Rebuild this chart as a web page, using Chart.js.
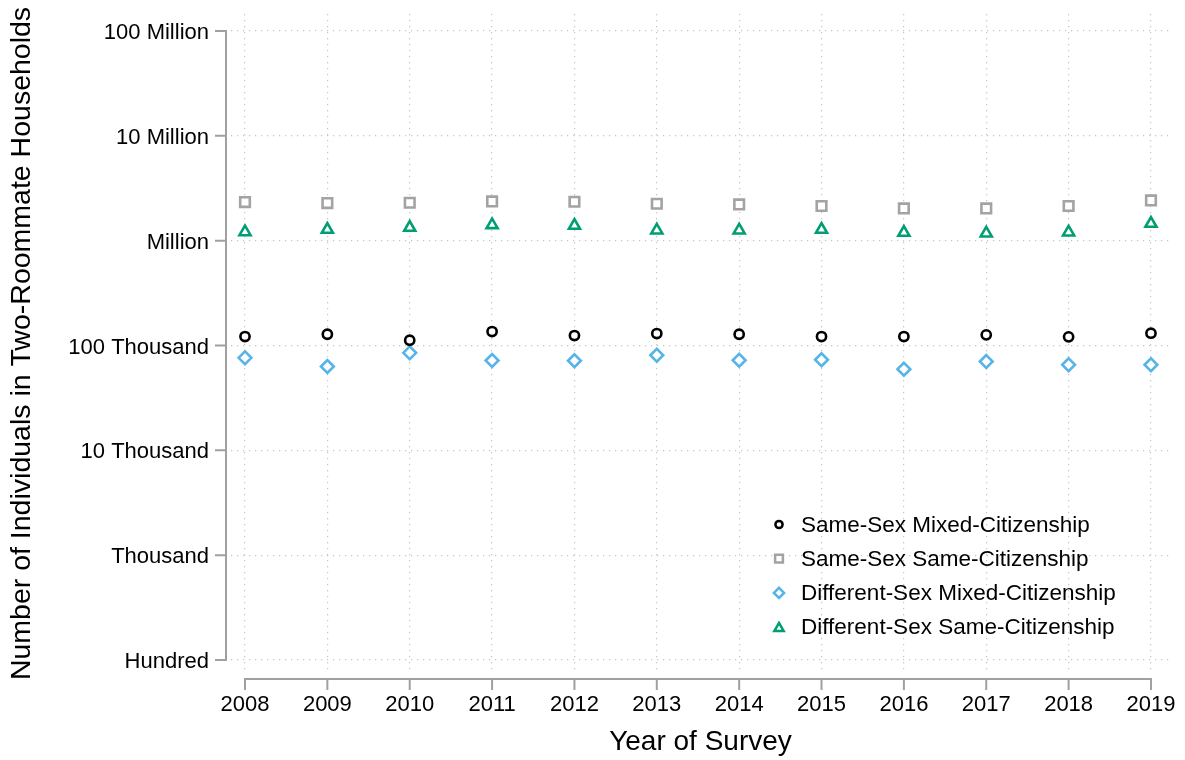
<!DOCTYPE html>
<html>
<head>
<meta charset="utf-8">
<script src="https://cdn.jsdelivr.net/npm/chart.js@4/dist/chart.umd.min.js"></script>
<style>
  html, body { margin: 0; padding: 0; background: #ffffff; }
  #wrap { width: 1185px; height: 760px; position: relative; }
</style>
</head>
<body>
<div id="wrap"><canvas id="chart" width="1185" height="760"></canvas></div>
<script>
// Survey years
const years = [2008, 2009, 2010, 2011, 2012, 2013, 2014, 2015, 2016, 2017, 2018, 2019];

// Number of individuals in two-roommate households, by household type
const sameSexMixed = [121800, 128100, 112300, 135900, 124500, 130100, 128100, 121800, 121800, 126400, 121000, 131000];
const sameSexSame = [2337000, 2286000, 2301000, 2367000, 2352000, 2251000, 2217000, 2141000, 2031000, 2031000, 2141000, 2420000];
const diffSexMixed = [76350, 63100, 85200, 72000, 71500, 80800, 72400, 73100, 59500, 70400, 65500, 65500];
const diffSexSame = [1210000, 1276000, 1333000, 1412000, 1393000, 1257000, 1257000, 1276000, 1195000, 1177000, 1203000, 1455000];

// Log-axis ticks and their labels
const yTickValues = [1e2, 1e3, 1e4, 1e5, 1e6, 1e7, 1e8];
const yTickLabels = ['Hundred', 'Thousand', '10 Thousand', '100 Thousand', 'Million', '10 Million', '100 Million'];

const seriesNames = ['Same-Sex Mixed-Citizenship', 'Same-Sex Same-Citizenship', 'Different-Sex Mixed-Citizenship', 'Different-Sex Same-Citizenship'];

const FONT = "'Liberation Sans', Arial, sans-serif";
const AXIS_GREY = '#a0a0a0';

function toPoints(values) {
  return years.map((yr, i) => ({ x: yr, y: values[i] }));
}

const seriesStyles = [
  { color: '#000000', pointStyle: 'circle', radius: 4.6, legendRadius: 3.6 },
  { color: '#a3a3a3', pointStyle: 'rect', radius: 6.8, legendRadius: 5.5 },
  { color: '#56b4e9', pointStyle: 'rectRot', radius: 6.4, legendRadius: 5.1 },
  { color: '#009e73', pointStyle: 'triangle', radius: 6.4, legendRadius: 5.4 }
];
const seriesValues = [sameSexMixed, sameSexSame, diffSexMixed, diffSexSame];

const datasets = seriesValues.map((vals, i) => ({
  label: seriesNames[i],
  data: toPoints(vals),
  showLine: false,
  pointStyle: seriesStyles[i].pointStyle,
  pointRadius: seriesStyles[i].radius,
  pointHoverRadius: seriesStyles[i].radius,
  pointBorderWidth: 2.6,
  pointBorderColor: seriesStyles[i].color,
  pointBackgroundColor: '#ffffff'
}));

// Marker drawing for the legend, same geometry as the chart's point styles
function drawMarker(ctx, style, x, y, r) {
  ctx.beginPath();
  if (style === 'circle') {
    ctx.arc(x, y, r, 0, Math.PI * 2);
  } else if (style === 'rect') {
    const s = Math.SQRT1_2 * r;
    ctx.rect(x - s, y - s, 2 * s, 2 * s);
  } else if (style === 'rectRot') {
    ctx.moveTo(x - r, y);
    ctx.lineTo(x, y - r);
    ctx.lineTo(x + r, y);
    ctx.lineTo(x, y + r);
  } else if (style === 'triangle') {
    let rad = 0;
    ctx.moveTo(x + Math.sin(rad) * r, y - Math.cos(rad) * r);
    rad += 2 * Math.PI / 3;
    ctx.lineTo(x + Math.sin(rad) * r, y - Math.cos(rad) * r);
    rad += 2 * Math.PI / 3;
    ctx.lineTo(x + Math.sin(rad) * r, y - Math.cos(rad) * r);
  }
  ctx.closePath();
  ctx.fill();
  ctx.stroke();
}

// Detached axis lines with outward ticks
const axisLines = {
  id: 'axisLines',
  beforeDatasetsDraw(chart) {
    const { ctx, chartArea, scales } = chart;
    const xs = scales.x, ys = scales.y;
    ctx.save();
    ctx.strokeStyle = AXIS_GREY;
    ctx.lineWidth = 2;
    ctx.lineCap = 'butt';
    // y axis
    const ax = chartArea.left - 5;
    const yTop = ys.getPixelForValue(yTickValues[yTickValues.length - 1]);
    const yBot = ys.getPixelForValue(yTickValues[0]);
    ctx.beginPath();
    ctx.moveTo(ax, yTop - 1);
    ctx.lineTo(ax, yBot + 1);
    yTickValues.forEach(v => {
      const p = ys.getPixelForValue(v);
      ctx.moveTo(ax - 11, p);
      ctx.lineTo(ax + 1, p);
    });
    ctx.stroke();
    // x axis
    const ay = chartArea.bottom + 6;
    const xL = xs.getPixelForValue(years[0]);
    const xR = xs.getPixelForValue(years[years.length - 1]);
    ctx.beginPath();
    ctx.moveTo(xL - 1, ay);
    ctx.lineTo(xR + 1, ay);
    years.forEach(yr => {
      const p = xs.getPixelForValue(yr);
      ctx.moveTo(p, ay - 1);
      ctx.lineTo(p, ay + 11);
    });
    ctx.stroke();
    ctx.restore();
  }
};

// Legend placed inside the plot, lower right
const insideLegend = {
  id: 'insideLegend',
  afterDraw(chart) {
    const { ctx } = chart;
    const markerX = 779, textX = 801, firstY = 524.5, step = 34.2;
    ctx.save();
    ctx.font = '22.5px ' + FONT;
    ctx.textBaseline = 'middle';
    ctx.textAlign = 'left';
    seriesNames.forEach((name, i) => {
      const y = firstY + i * step;
      ctx.strokeStyle = seriesStyles[i].color;
      ctx.fillStyle = '#ffffff';
      ctx.lineWidth = 2.5;
      drawMarker(ctx, seriesStyles[i].pointStyle, markerX, y + (seriesStyles[i].pointStyle === 'triangle' ? 1.2 : 0), seriesStyles[i].legendRadius);
      ctx.fillStyle = '#000000';
      ctx.fillText(name, textX, y + 1);
    });
    ctx.restore();
  }
};

new Chart(document.getElementById('chart'), {
  type: 'scatter',
  data: { datasets },
  options: {
    responsive: false,
    animation: false,
    events: [],
    layout: { padding: { left: 0, right: 15, top: 14, bottom: 0 } },
    plugins: {
      legend: { display: false },
      tooltip: { enabled: false }
    },
    scales: {
      x: {
        type: 'linear',
        min: 2007.83,
        max: 2019.231,
        afterBuildTicks(scale) { scale.ticks = years.map(v => ({ value: v })); },
        afterFit(scale) {
          scale.height = 87;
          scale.paddingLeft = 0;
          scale.paddingRight = 0;
        },
        ticks: {
          autoSkip: false,
          padding: 19,
          color: '#000000',
          font: { family: FONT, size: 22 },
          callback: v => String(v)
        },
        grid: { drawTicks: false, color: '#c4c4c4', lineWidth: 1.2 },
        border: { display: false, dash: [1.2, 4.8] },
        title: {
          display: true,
          text: 'Year of Survey',
          color: '#000000',
          font: { family: FONT, size: 28 },
          padding: { top: 0, bottom: 1 }
        }
      },
      y: {
        type: 'logarithmic',
        min: 75.2,
        max: 1.4527e8,
        afterBuildTicks(scale) { scale.ticks = yTickValues.map(v => ({ value: v })); },
        afterFit(scale) {
          scale.width = 231;
          scale.paddingTop = 0;
          scale.paddingBottom = 0;
        },
        ticks: {
          autoSkip: false,
          padding: 22,
          labelOffset: 2,
          color: '#000000',
          font: { family: FONT, size: 22 },
          callback: v => {
            const i = yTickValues.indexOf(v);
            return i >= 0 ? yTickLabels[i] : '';
          }
        },
        grid: { drawTicks: false, color: '#c4c4c4', lineWidth: 1.2 },
        border: { display: false, dash: [1.2, 4.8] },
        title: {
          display: true,
          text: 'Number of Individuals in Two-Roommate Households',
          color: '#000000',
          font: { family: FONT, size: 28.5 },
          padding: { top: 5, bottom: 0 }
        }
      }
    }
  },
  plugins: [axisLines, insideLegend]
});
</script>
</body>
</html>
